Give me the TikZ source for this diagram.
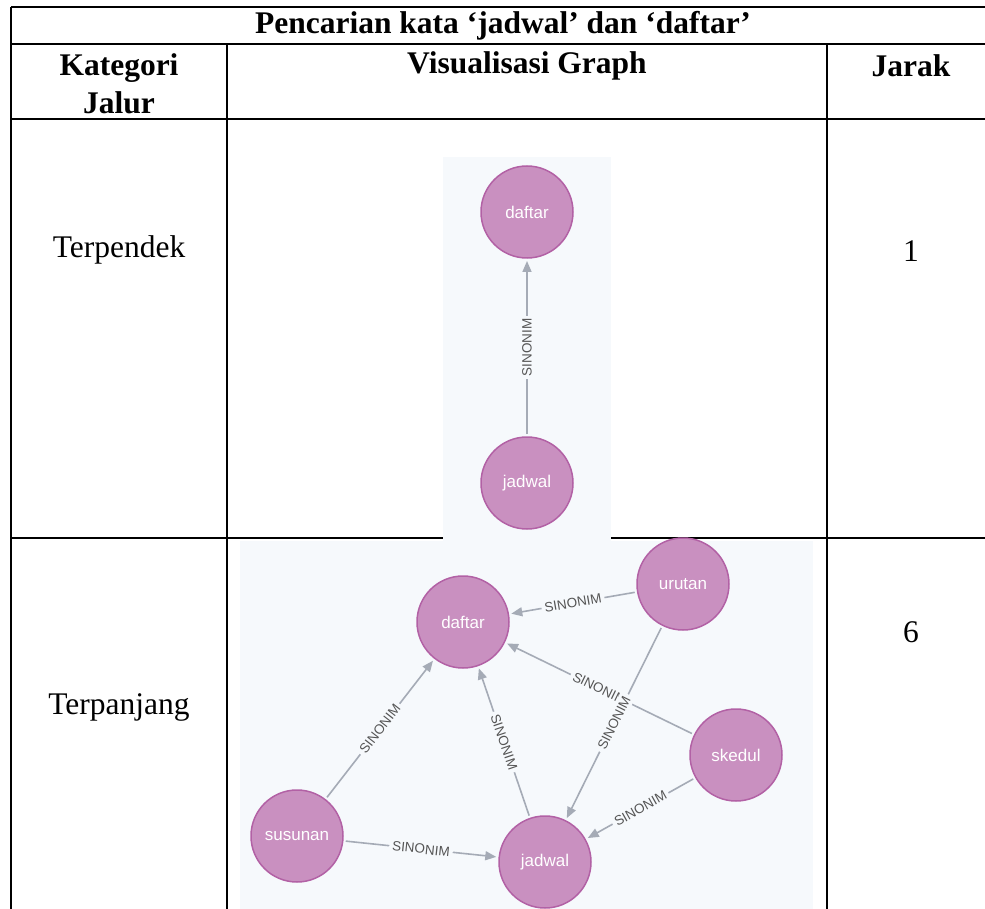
\documentclass[tikz,border=0pt]{standalone}
\usepackage{fontspec}
\setmainfont{Liberation Serif}
\newfontfamily\graphfont{Liberation Sans}
\usetikzlibrary{arrows.meta}
\definecolor{nodefill}{HTML}{C990C0}
\definecolor{nodeline}{HTML}{B261A5}
\definecolor{edgegray}{HTML}{A5ABB6}
\definecolor{canvas}{HTML}{F6F9FC}
\definecolor{labelgray}{HTML}{555555}

\begin{document}
\begin{tikzpicture}[x=1pt,y=-1pt,
  rule/.style={line width=2pt},
  cell/.style={font=\fontsize{31.5}{38}\selectfont, align=center, inner sep=0pt},
  headcell/.style={font=\fontsize{31.5}{38}\selectfont\bfseries, align=center, inner sep=0pt},
  gnode/.style={circle, minimum size=92pt, inner sep=0pt, fill=nodefill, draw=nodeline,
    line width=1.5pt, text=white, font=\graphfont\fontsize{17}{20}\selectfont, outer sep=3pt},
  rel/.style={draw=edgegray, line width=1.6pt, -{Triangle[length=11pt,width=9pt]}},
  rlabel/.style={font=\graphfont\fontsize{13.5}{16}\selectfont, text=labelgray, fill=canvas,
    inner sep=3pt, sloped, midway}
]
\useasboundingbox (0,0) rectangle (985,909);
\clip (0,0) rectangle (985,909);
\fill[white] (0,0) rectangle (985,909);

% table grid
\draw[rule] (11,7) -- (995,7);
\draw[rule] (11,44) -- (995,44);
\draw[rule] (11,119) -- (995,119);
\draw[rule] (11,538) -- (995,538);
\draw[rule] (11,7) -- (11,960);
\draw[rule] (995,7) -- (995,960);
\draw[rule] (227,44) -- (227,960);
\draw[rule] (827,44) -- (827,960);

% table texts
\node[headcell] (title) at (503,26) {Pencarian kata ‘jadwal’ dan ‘daftar’};
\node[headcell] (hkat) at (119,84) {Kategori\\Jalur};
\node[headcell] (hvis) at (527,66) {Visualisasi Graph};
\node[headcell] (hjar) at (911,66) {Jarak};
\node[cell] (short) at (119,250) {Terpendek};
\node[cell] (dshort) at (911,251) {1};
\node[cell] (long) at (119,707) {Terpanjang};
\node[cell] (dlong) at (911,632) {6};

% graph canvases
\fill[canvas] (443,157) rectangle (611,541);
\fill[canvas] (240,541) rectangle (813,920);

% shortest path
\node[gnode] (daftarA) at (527,212) {daftar};
\node[gnode] (jadwalA) at (527,483) {jadwal};
\draw[rel] (jadwalA) -- (daftarA) node[rlabel] {SINONIM};

% longest path
\node[gnode] (daftarB) at (463,622) {daftar};
\node[gnode] (urutan) at (683,584) {urutan};
\node[gnode] (skedul) at (736,755) {skedul};
\node[gnode] (susunan) at (297,836) {susunan};
\node[gnode] (jadwalB) at (545,862) {jadwal};

\draw[rel] (urutan) -- (daftarB) node[rlabel] {SINONIM};
\draw[rel] (skedul) -- (daftarB) node[rlabel] {SINONIM};
\draw[rel] (urutan) -- (jadwalB) node[rlabel] {SINONIM};
\draw[rel] (jadwalB) -- (daftarB) node[rlabel] {SINONIM};
\draw[rel] (susunan) -- (daftarB) node[rlabel] {SINONIM};
\draw[rel] (susunan) -- (jadwalB) node[rlabel] {SINONIM};
\draw[rel] (skedul) -- (jadwalB) node[rlabel] {SINONIM};
\end{tikzpicture}
\end{document}
